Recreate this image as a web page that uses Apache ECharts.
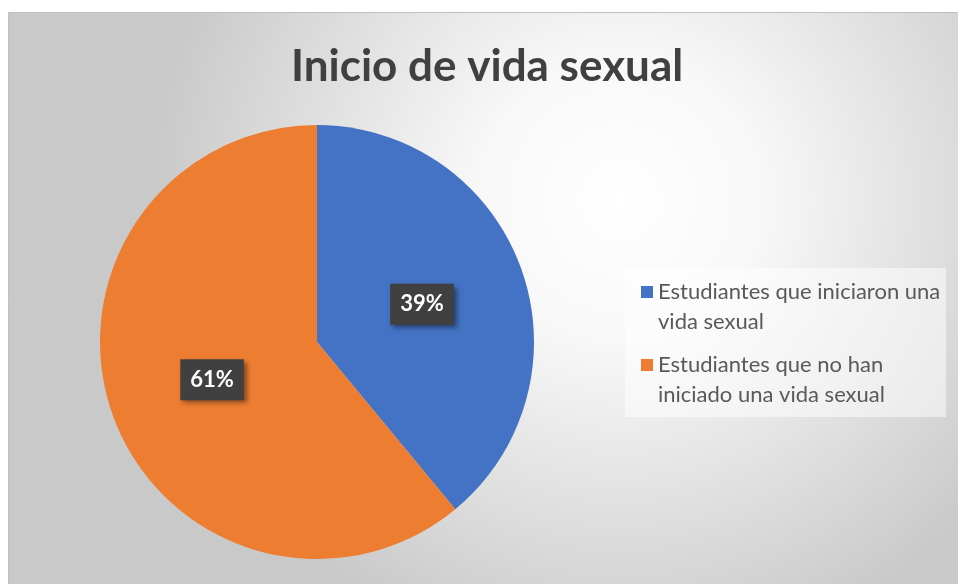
<!DOCTYPE html>
<html>
<head>
<meta charset="utf-8">
<script src="https://cdn.jsdelivr.net/npm/echarts@6/dist/echarts.min.js"></script>
<style>
html,body{margin:0;padding:0;background:#ffffff;}
#chart{width:958px;height:584px;}
</style>
</head>
<body>
<div id="chart"></div>
<script>
const titleText = 'Inicio de vida sexual';
const categories = ['Estudiantes que iniciaron una vida sexual', 'Estudiantes que no han iniciado una vida sexual'];
const values = [39, 61];
const legendLabels = ['Estudiantes que iniciaron una\nvida sexual', 'Estudiantes que no han\niniciado una vida sexual'];
const colors = ['#4472C4', '#ED7D31'];

const chart = echarts.init(document.getElementById('chart'));
const labelMap = {};
categories.forEach((c, i) => { labelMap[c] = '\n' + legendLabels[i]; });

chart.setOption({
  animation: false,
  color: colors,
  graphic: [
    {
      type: 'rect',
      z: -10,
      silent: true,
      shape: { x: 8.5, y: 12.5, width: 960, height: 580 },
      style: {
        fill: new echarts.graphic.RadialGradient(620, 200, 470, [
          { offset: 0, color: '#ffffff' },
          { offset: 0.3, color: '#f8f8f8' },
          { offset: 1, color: '#c9c9c9' }
        ], true),
        stroke: '#bfbfbf',
        lineWidth: 1
      }
    },
    {
      type: 'rect',
      z: -5,
      silent: true,
      shape: { x: 625, y: 268, width: 321, height: 149 },
      style: { fill: 'rgba(255,255,255,0.5)' }
    }
  ],
  title: {
    text: titleText,
    left: 291,
    top: 45,
    padding: 0,
    textStyle: {
      fontFamily: 'Lato',
      fontWeight: 'bold',
      fontSize: 44,
      color: '#404040'
    }
  },
  legend: {
    orient: 'vertical',
    left: 641,
    top: 247,
    padding: 0,
    itemGap: -17,
    itemWidth: 12,
    itemHeight: 12,
    icon: 'rect',
    data: categories,
    formatter: name => labelMap[name],
    textStyle: {
      fontFamily: 'Lato',
      fontSize: 22,
      color: '#595959',
      lineHeight: 30
    }
  },
  series: [{
    type: 'pie',
    center: [317, 342],
    radius: 217,
    startAngle: 90,
    clockwise: true,
    emphasis: { disabled: true },
    itemStyle: { borderWidth: 0 },
    label: {
      show: true,
      position: 'inside',
      formatter: p => p.value + '%',
      fontFamily: 'Lato',
      fontWeight: 'bold',
      fontSize: 22,
      color: '#ffffff',
      backgroundColor: '#404040',
      padding: [10, 10, 9, 10],
      lineHeight: 22,
      shadowColor: 'rgba(0,0,0,0.45)',
      shadowBlur: 5,
      shadowOffsetX: 3,
      shadowOffsetY: 3
    },
    labelLine: { show: false },
    data: categories.map((c, i) => ({ name: c, value: values[i] }))
  }]
});
</script>
</body>
</html>
